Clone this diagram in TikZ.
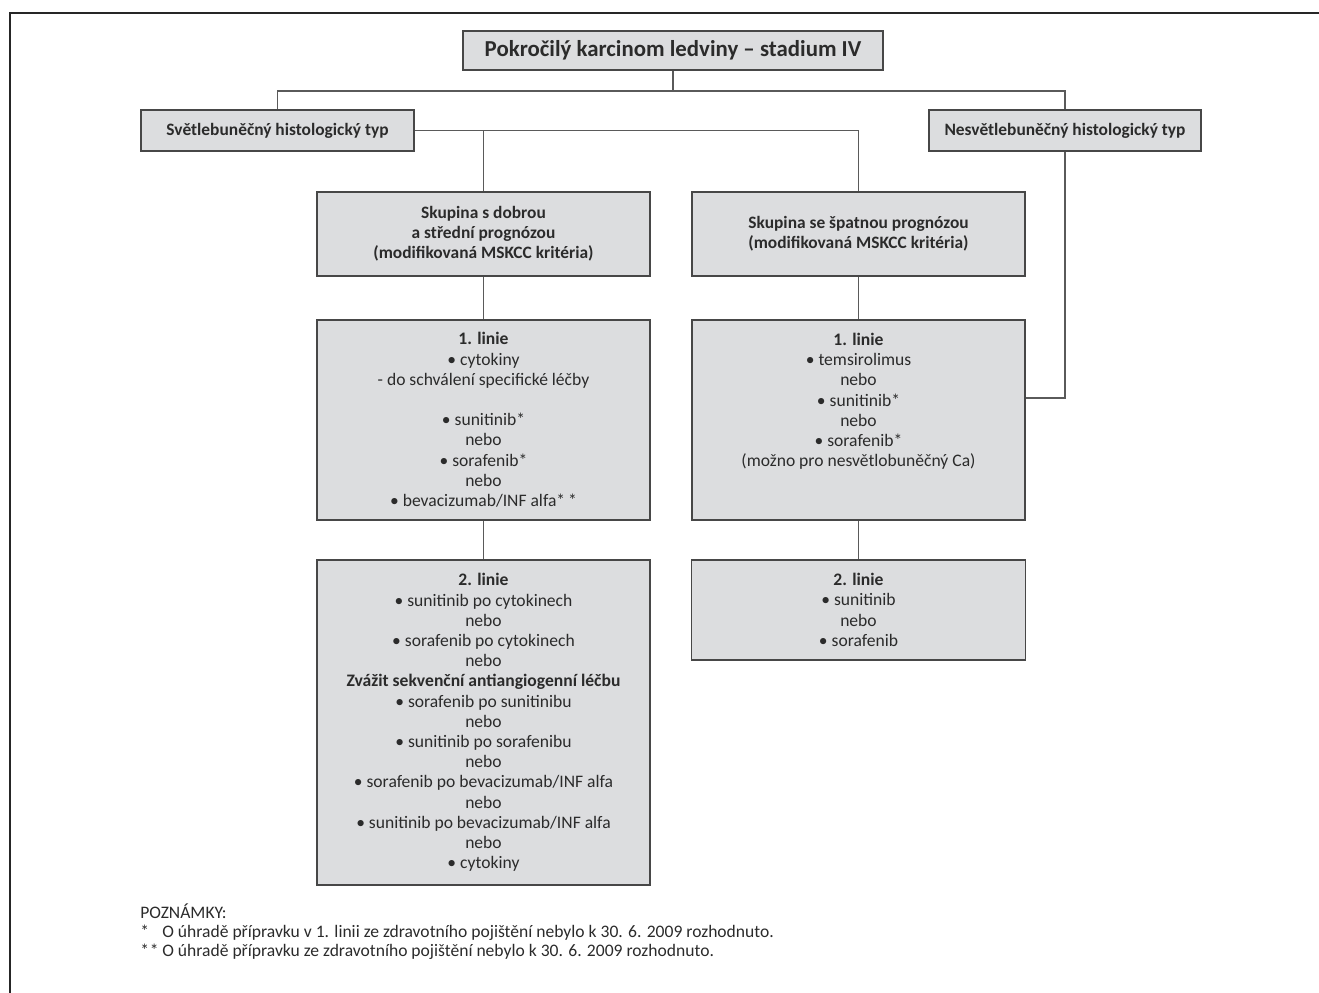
\documentclass[tikz,border=0pt]{standalone}
\usepackage{fontspec}
\setmainfont{Carlito}
\definecolor{boxfill}{HTML}{DCDDDF}
\definecolor{boxline}{HTML}{474747}
\definecolor{linkcol}{HTML}{5A5A5A}
\definecolor{framecol}{HTML}{262626}
\definecolor{textcol}{HTML}{2B2B2B}
\begin{document}
\begin{tikzpicture}[x=0.02cm, y=-0.02cm,
  every node/.style={text=textcol},
  box/.style={draw=boxline, fill=boxfill, line width=0.8pt, align=center, inner sep=0pt, font=\fontsize{10}{11.5}\selectfont},
  head/.style={box, font=\fontsize{9.9}{11.5}\selectfont\bfseries},
  link/.style={draw=linkcol, line width=0.7pt}]
\useasboundingbox (0,0) rectangle (1319,993);
\draw[framecol, line width=1.7pt] (1319,13) -- (10,13) -- (10,993);

\node[box, font=\fontsize{13}{15}\selectfont\bfseries, minimum width=8.4cm, minimum height=0.78cm] (root) at (673,50.5) {Pokročilý karcinom ledviny – stadium IV};

\node[head, minimum width=5.46cm, minimum height=0.82cm] (clear) at (277.5,130.5) {Světlebuněčný histologický typ};
\node[head, minimum width=5.44cm, minimum height=0.82cm] (nonclear) at (1065,130.5) {Nesvětlebuněčný histologický typ};

\node[head, minimum width=6.66cm, minimum height=1.68cm] (goodrisk) at (483.5,234) {Skupina s dobrou\\a střední prognózou\\(modifikovaná MSKCC kritéria)};
\node[head, minimum width=6.66cm, minimum height=1.68cm] (poorrisk) at (858.5,234) {Skupina se špatnou prognózou\\(modifikovaná MSKCC kritéria)};

\node[box, minimum width=6.66cm, minimum height=4cm] (goodfirst) at (483.5,420) {\textbf{1. linie}\\• cytokiny\\- do schválení specifické léčby\\[11.5pt]• sunitinib*\\nebo\\• sorafenib*\\nebo\\• bevacizumab/INF alfa*\,*};
\node[box, minimum width=6.66cm, minimum height=4cm] (poorfirst) at (858.5,420) {};
\node[align=center, inner sep=0pt, font=\fontsize{10}{11.5}\selectfont, anchor=north] (poorfirsttxt) at ([yshift=-0.27cm]poorfirst.north) {\textbf{1. linie}\\• temsirolimus\\nebo\\• sunitinib*\\nebo\\• sorafenib*\\(možno pro nesvětlobuněčný Ca)};

\node[box, minimum width=6.66cm, minimum height=6.5cm] (goodsecond) at (483.5,722.5) {\textbf{2. linie}\\• sunitinib po cytokinech\\nebo\\• sorafenib po cytokinech\\nebo\\\textbf{Zvážit sekvenční antiangiogenní léčbu}\\• sorafenib po sunitinibu\\nebo\\• sunitinib po sorafenibu\\nebo\\• sorafenib po bevacizumab/INF alfa\\nebo\\• sunitinib po bevacizumab/INF alfa\\nebo\\• cytokiny};
\node[box, minimum width=6.68cm, minimum height=2cm] (poorsecond) at (858.5,610) {\textbf{2. linie}\\• sunitinib\\nebo\\• sorafenib};

\node[anchor=north west, align=left, inner sep=0pt, font=\fontsize{10}{11}\selectfont] (notes) at (140,903) {POZNÁMKY:\\\makebox[0.44cm][l]{*}O úhradě přípravku v 1. linii ze zdravotního pojištění nebylo k 30. 6. 2009 rozhodnuto.\\\makebox[0.44cm][l]{*\kern0.5pt*}O úhradě přípravku ze zdravotního pojištění nebylo k 30. 6. 2009 rozhodnuto.};

% connectors
\coordinate (split) at (673,91);
\draw[link] (root.south) -- (split);
\draw[link] (clear.north) |- (split) -| (nonclear.north);
\draw[link] (clear.east) -| (poorrisk.north);
\draw[link] (goodrisk.north) -- (goodrisk.north |- clear.east);
\draw[link] (goodrisk.south) -- (goodfirst.north);
\draw[link] (goodfirst.south) -- (goodsecond.north);
\draw[link] (poorrisk.south) -- (poorfirst.north);
\draw[link] (poorfirst.south) -- (poorsecond.north);
\draw[link] (nonclear.south) |- ([yshift=0.44cm]poorfirst.east);
\end{tikzpicture}
\end{document}
